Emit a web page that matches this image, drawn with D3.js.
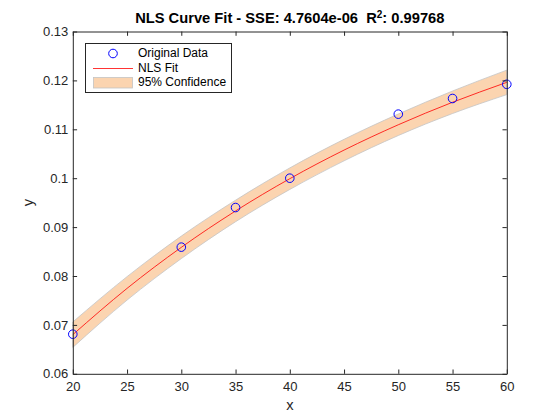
<!DOCTYPE html>
<html><head><meta charset="utf-8">
<script src="https://cdn.jsdelivr.net/npm/d3@7"></script>
<style>body{margin:0;background:#fff}svg{display:block}text{font-family:"Liberation Sans",Arial,Helvetica,sans-serif}</style>
</head><body>
<script>
const dataX = [20, 30, 35, 40, 50, 55, 60];
const dataY = [0.0681, 0.0859, 0.0940, 0.1000, 0.1131, 0.1163, 0.1192];
const fitX = [20, 25, 30, 35, 40, 45, 50, 55, 60];
const fitY = [0.0680, 0.07747, 0.08586, 0.0933, 0.0999, 0.10575, 0.11093, 0.11553, 0.1196];
const ciHalf = [0.0026, 0.0024, 0.0023, 0.0022, 0.0022, 0.0022, 0.0022, 0.0023, 0.0025];
const xTicks = [20, 25, 30, 35, 40, 45, 50, 55, 60];
const yTicks = [0.06, 0.07, 0.08, 0.09, 0.1, 0.11, 0.12, 0.13];
const yTickLabels = ["0.06", "0.07", "0.08", "0.09", "0.1", "0.11", "0.12", "0.13"];
const legendLabels = ["Original Data", "NLS Fit", "95% Confidence"];

const W = 560, H = 420;
const L = 72.8, R = 506.8, T = 31.5, B = 373.8;
const svg = d3.select("body").append("svg").attr("width", W).attr("height", H);
const x = d3.scaleLinear().domain([20, 60]).range([L, R]);
const y = d3.scaleLinear().domain([0.06, 0.13]).range([B, T]);
const axC = "#262626";
const fillC = "#fbd4b0", edgeC = "#c4c4c4";

const band = fitX.map((v, i) => ({x: v, lo: fitY[i] - ciHalf[i], hi: fitY[i] + ciHalf[i]}));
svg.append("path").datum(band)
  .attr("d", d3.area().x(d => x(d.x)).y0(d => y(d.lo)).y1(d => y(d.hi)).curve(d3.curveMonotoneX))
  .attr("fill", fillC).attr("stroke", edgeC).attr("stroke-width", 0.8);

const fit = fitX.map((v, i) => [v, fitY[i]]);
svg.append("path").datum(fit)
  .attr("d", d3.line().x(d => x(d[0])).y(d => y(d[1])).curve(d3.curveMonotoneX))
  .attr("fill", "none").attr("stroke", "#ff0000").attr("stroke-width", 0.8);

svg.selectAll("circle.pt").data(dataX.map((v, i) => [v, dataY[i]])).enter().append("circle")
  .attr("class", "pt").attr("cx", d => x(d[0])).attr("cy", d => y(d[1])).attr("r", 4.3)
  .attr("fill", "none").attr("stroke", "#0000ff").attr("stroke-width", 1);

// axes
const tl = 4.3;
const gxb = svg.append("g").attr("transform", `translate(0,${B})`)
  .call(d3.axisBottom(x).tickValues(xTicks).tickSizeInner(-tl).tickSizeOuter(0).tickPadding(8));
const gxt = svg.append("g").attr("transform", `translate(0,${T})`)
  .call(d3.axisTop(x).tickValues(xTicks).tickSizeInner(-tl).tickSizeOuter(0).tickFormat(""));
const gyl = svg.append("g").attr("transform", `translate(${L},0)`)
  .call(d3.axisLeft(y).tickValues(yTicks).tickSizeInner(-tl).tickSizeOuter(0).tickPadding(4.5)
    .tickFormat((d, i) => yTickLabels[i]));
const gyr = svg.append("g").attr("transform", `translate(${R},0)`)
  .call(d3.axisRight(y).tickValues(yTicks).tickSizeInner(-tl).tickSizeOuter(0).tickFormat(""));
[gxb, gxt, gyl, gyr].forEach(g => {
  g.selectAll("path.domain").attr("stroke", axC).attr("stroke-width", 1);
  g.selectAll("line").attr("stroke", axC);
  g.selectAll("text").attr("fill", axC).style("font-size", "13px").style("font-family", "Liberation Sans, Arial, sans-serif");
});

// labels
svg.append("text").attr("x", (L + R) / 2).attr("y", 410).attr("text-anchor", "middle")
  .attr("fill", axC).style("font-size", "14.7px").text("x");
svg.append("text").attr("transform", `translate(33,${(T + B) / 2}) rotate(-90)`).attr("text-anchor", "middle")
  .attr("fill", axC).style("font-size", "14.7px").text("y");

const title = svg.append("text").attr("x", (L + R) / 2).attr("y", 23.3).attr("text-anchor", "middle")
  .attr("fill", "#000").style("font-size", "14.7px").style("font-weight", "bold").style("white-space", "pre");
title.append("tspan").text("NLS Curve Fit - SSE: 4.7604e-06  R");
title.append("tspan").attr("dy", -5).style("font-size", "10px").text("2");
title.append("tspan").attr("dy", 5).text(": 0.99768");

// legend
const lg = svg.append("g");
lg.append("rect").attr("x", 85.5).attr("y", 43.5).attr("width", 146).attr("height", 49)
  .attr("fill", "#fff").attr("stroke", axC).attr("stroke-width", 1);
lg.append("circle").attr("cx", 113).attr("cy", 53.5).attr("r", 4.3).attr("fill", "none").attr("stroke", "#0000ff");
lg.append("line").attr("x1", 93).attr("x2", 133).attr("y1", 68.5).attr("y2", 68.5).attr("stroke", "#ff0000").attr("stroke-width", 0.8);
lg.append("rect").attr("x", 93.5).attr("y", 77.5).attr("width", 39).attr("height", 10.5).attr("fill", fillC).attr("stroke", edgeC).attr("stroke-width", 0.8);
const baselines = [57.3, 71.6, 86];
legendLabels.forEach((t, i) => {
  lg.append("text").attr("x", 138).attr("y", baselines[i]).attr("fill", "#000").style("font-size", "12px").text(t);
});
</script>
</body></html>
